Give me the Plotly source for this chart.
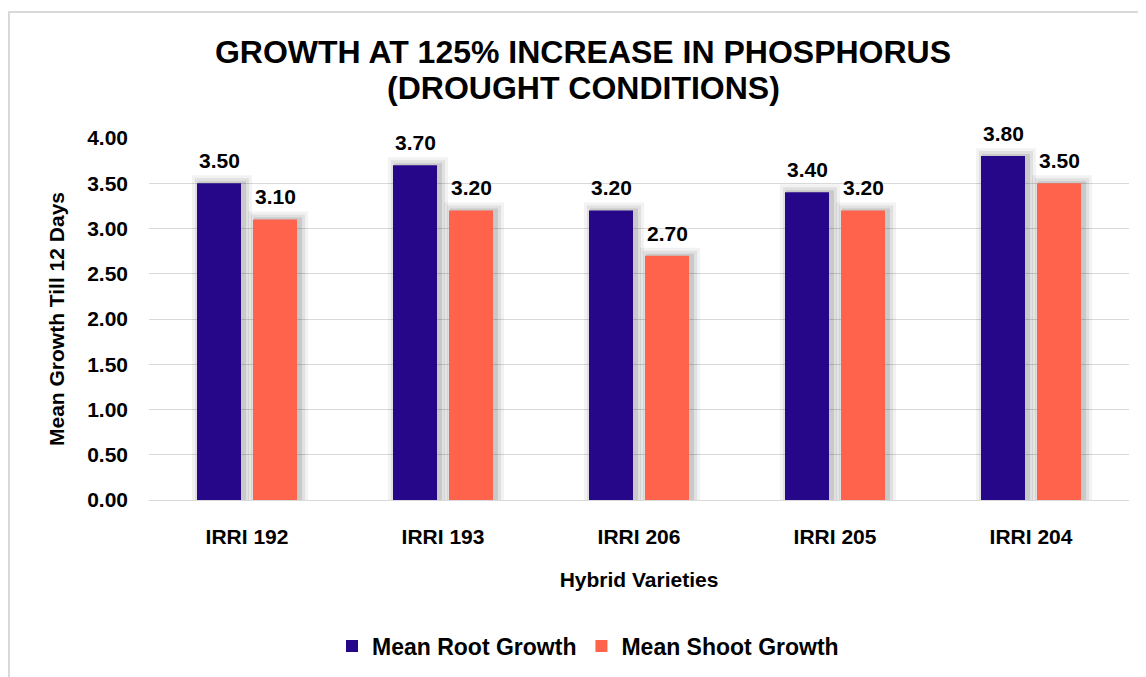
import plotly.graph_objects as go

categories = ["IRRI 192", "IRRI 193", "IRRI 206", "IRRI 205", "IRRI 204"]
root_growth = [3.50, 3.70, 3.20, 3.40, 3.80]
shoot_growth = [3.10, 3.20, 2.70, 3.20, 3.50]
y_ticks = [0, 0.5, 1.0, 1.5, 2.0, 2.5, 3.0, 3.5, 4.0]

ROOT_COLOR = "#26078a"
SHOOT_COLOR = "#ff634b"
FONT = "Liberation Sans, Arial, sans-serif"

# layout geometry (pixels; page body has an 8px margin)
W, H = 1138, 669
L, R, T, B = 141, 17, 130, 177
plot_w = W - L - R
plot_h = H - T - B

slot = 196
bar_w = 44 / slot
root_off = -50 / slot
shoot_off = 6 / slot

fig = go.Figure()

# soft drop shadows behind bars
for vals, off in [(root_growth, root_off), (shoot_growth, shoot_off)]:
    for grow, alpha in [(8, 0.05), (5, 0.07), (2, 0.10)]:
        fig.add_trace(go.Bar(
            x=categories, y=[v + grow * 0.011 for v in vals],
            width=bar_w + grow * 2 / slot, offset=off - grow / slot + 3 / slot,
            marker=dict(color=f"rgba(0,0,0,{alpha})", line=dict(width=0)),
            showlegend=False, hoverinfo="skip",
        ))

fig.add_trace(go.Bar(
    name="<b>Mean Root Growth</b>", x=categories, y=root_growth,
    width=bar_w, offset=root_off,
    marker=dict(color=ROOT_COLOR, line=dict(width=0)),
    hoverinfo="y",
))
fig.add_trace(go.Bar(
    name="<b>Mean Shoot Growth</b>", x=categories, y=shoot_growth,
    width=bar_w, offset=shoot_off,
    marker=dict(color=SHOOT_COLOR, line=dict(width=0)),
    hoverinfo="y",
))

# data labels above each bar
for vals, dx in [(root_growth, -28), (shoot_growth, 28)]:
    for c, v in zip(categories, vals):
        fig.add_annotation(
            x=c, y=v, xref="x", yref="y", xshift=dx, yshift=9,
            text=f"<b>{v:.2f}</b>", showarrow=False, yanchor="bottom",
            font=dict(family=FONT, size=21, color="#000000"),
        )

# second title line
fig.add_annotation(
    x=(575 - L) / plot_w, y=(T + plot_h - 80) / plot_h, xref="paper", yref="paper",
    text="<b>(DROUGHT CONDITIONS)</b>", showarrow=False,
    xanchor="center", yanchor="middle",
    font=dict(family=FONT, size=32, color="#000000"),
)

fig.update_layout(
    width=W, height=H,
    barmode="overlay",
    paper_bgcolor="white", plot_bgcolor="white",
    margin=dict(l=L, r=R, t=T, b=B, autoexpand=False),
    font=dict(family=FONT, color="#000000"),
    title=dict(
        text="<b>GROWTH AT 125% INCREASE IN PHOSPHORUS</b>",
        x=575 / W, xanchor="center", y=1 - 44 / H, yanchor="middle",
        font=dict(family=FONT, size=32, color="#000000"),
    ),
    xaxis=dict(
        showgrid=False, showline=True, linecolor="#d9d9d9", linewidth=1,
        ticks="", tickfont=dict(family=FONT, size=21, color="#000000"),
        tickprefix="<b>", ticksuffix="</b>", ticklabelstandoff=18,
        title=dict(text="<b>Hybrid Varieties</b>", font=dict(family=FONT, size=21), standoff=25),
    ),
    yaxis=dict(
        range=[0, 4.0], tickvals=y_ticks,
        ticktext=[f"<b>{v:.2f}</b>" for v in y_ticks],
        showgrid=True, gridcolor="#d9d9d9", gridwidth=1,
        zeroline=False, showline=False, ticks="", ticklabelstandoff=20,
        tickfont=dict(family=FONT, size=21, color="#000000"),
        title=dict(text="<b>Mean Growth Till 12 Days</b>", font=dict(family=FONT, size=21), standoff=16),
    ),
    legend=dict(
        orientation="h", x=(580 - L) / plot_w, xanchor="center",
        y=-(638 - (T + plot_h)) / plot_h, yanchor="middle",
        font=dict(family=FONT, size=23, color="#000000"),
        traceorder="normal", itemwidth=30,
    ),
    showlegend=True,
)

# outer chart border
fig.add_shape(
    type="rect", xref="paper", yref="paper",
    x0=(1 - L) / plot_w, x1=(W + 5 - L) / plot_w,
    y0=-(H + 5 - T - plot_h) / plot_h, y1=(T + plot_h - 4) / plot_h,
    line=dict(color="#d9d9d9", width=2), layer="below",
)

fig.write_html("out.html")
